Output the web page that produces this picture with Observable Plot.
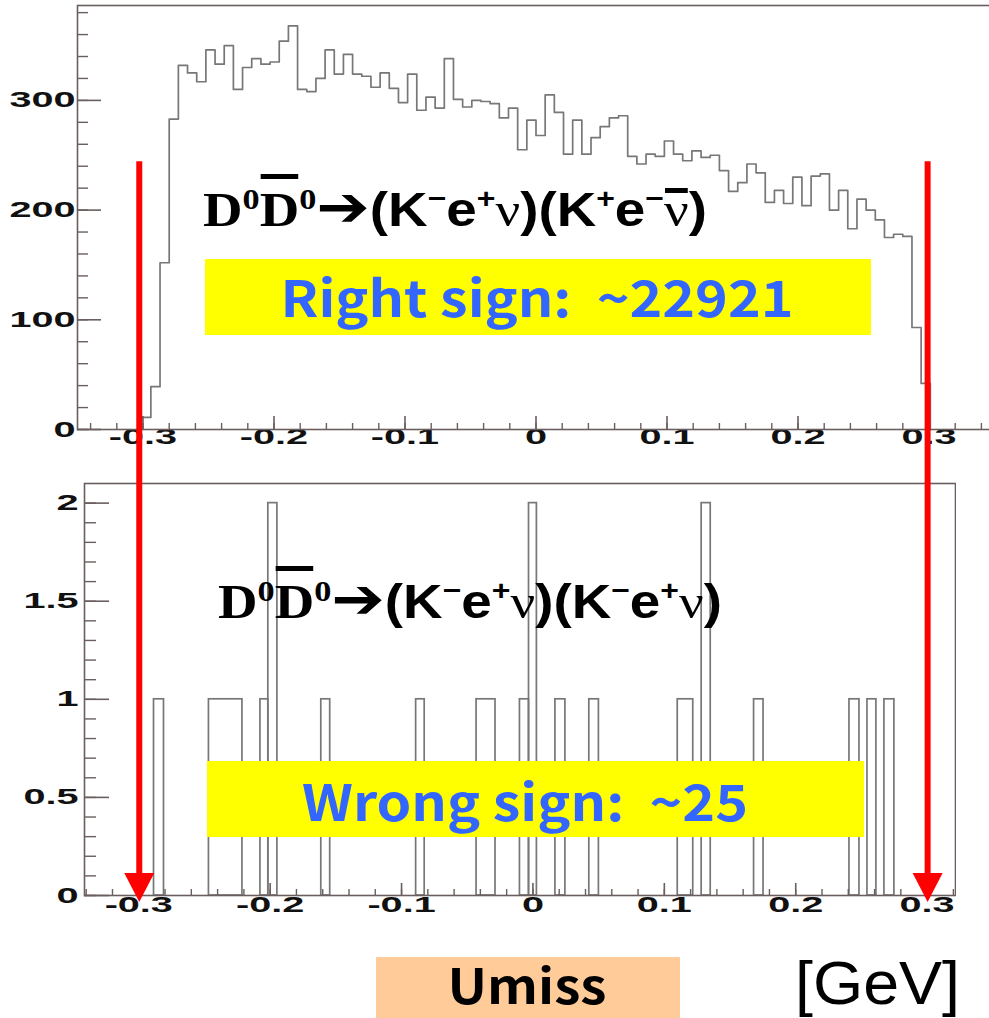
<!DOCTYPE html>
<html>
<head>
<meta charset="utf-8">
<script src="https://cdn.jsdelivr.net/npm/d3@7"></script>
<script src="https://cdn.jsdelivr.net/npm/@observablehq/plot@0.6"></script>
<style>
  html, body { margin: 0; padding: 0; background: #fff; overflow: hidden; }
  #fig { position: relative; width: 989px; height: 1018px; overflow: hidden; background: #fff; }
  #fig > svg { position: absolute; max-width: none; }
</style>
</head>
<body>
<div id="fig"></div>
<script>
// ---- Right-sign sample: Umiss histogram, 0.007 GeV bins from -0.301 GeV ----
const binWidth = 0.007;
const rsFirstEdge = -0.301;
const rsCounts = [
  11, 39, 152, 283, 332, 325, 317, 346, 333, 350,
  310, 330, 338, 333, 335, 354, 368, 310, 308, 320,
  346, 324, 342, 324, 322, 312, 325, 311, 298, 324,
  291, 303, 293, 338, 301, 294, 300, 299, 297, 284,
  293, 255, 282, 268, 305, 289, 251, 282, 251, 266,
  276, 284, 286, 249, 242, 251, 249, 263, 251, 245,
  254, 248, 250, 236, 217, 225, 242, 234, 207, 218,
  206, 230, 204, 231, 233, 200, 218, 183, 210, 200,
  191, 175, 178, 176, 93, 42
];

// ---- Wrong-sign sample: filled Umiss ranges (GeV) and entries per bin ----
const wsLo    = [-0.2884, -0.2466, -0.2074, -0.2014, -0.1611, -0.0889, -0.0429, -0.0099, -0.0030, 0.0171, 0.0429, 0.1102, 0.1284, 0.1683, 0.2409, 0.2546, 0.2675];
const wsHi    = [-0.2808, -0.2211, -0.2014, -0.1945, -0.1543, -0.0824, -0.0285, -0.0030, 0.0030, 0.0247, 0.0502, 0.1220, 0.1353, 0.1755, 0.2485, 0.2614, 0.2751];
const wsCount = [1, 1, 1, 2, 1, 1, 1, 1, 2, 1, 1, 1, 2, 1, 1, 1, 1];

// ---- Axis ticks and labels ----
const xMajor = [-0.3, -0.2, -0.1, 0, 0.1, 0.2, 0.3];
const xLabels = ["-0.3", "-0.2", "-0.1", "0", "0.1", "0.2", "0.3"];
const rsYMajor = [0, 100, 200, 300];
const rsYLabels = ["0", "100", "200", "300"];
const wsYMajor = [0, 0.5, 1, 1.5, 2];
const wsYLabels = ["0", "0.5", "1", "1.5", "2"];

// Selection window on Umiss (GeV)
const cutValues = [-0.3, 0.3];

// ---- Styling ----
const frameColor = "#6b5e5e";
const histColor = "#777777";
const tickFont = {fontFamily: "'Liberation Sans', Arial, sans-serif", fontWeight: "bold", fontSize: 22, fill: "#111"};
const labelStretch = 1.8;

const fig = document.getElementById("fig");

// minor tick positions
const step = (a, b, s) => d3.range(Math.round(a / s), Math.round(b / s) + 1).map(k => +(k * s).toFixed(6));

function frameMarks({fw, fh, xMinor, yMajor, yLabels, yMinor, xLen, xMinLen, yLen, yMinLen, xdy, ydx}) {
  return [
    Plot.ruleX(xMinor, {x: d => d, insetTop: fh - xMinLen, stroke: frameColor, strokeWidth: 1.4}),
    Plot.ruleX(xMajor, {x: d => d, insetTop: fh - xLen, stroke: frameColor, strokeWidth: 1.6}),
    Plot.ruleY(yMinor, {y: d => d, insetRight: fw - yMinLen, stroke: frameColor, strokeWidth: 1.4}),
    Plot.ruleY(yMajor, {y: d => d, insetRight: fw - yLen, stroke: frameColor, strokeWidth: 1.6}),
    Plot.text(xMajor, {x: d => d, frameAnchor: "bottom", dy: xdy, text: (d, i) => xLabels[i], ...tickFont}),
    Plot.text(yMajor, {y: d => d, frameAnchor: "left", dx: ydx, textAnchor: "end", text: (d, i) => yLabels[i], ...tickFont}),
    Plot.frame({stroke: frameColor, strokeWidth: 1.6})
  ];
}

// ---- Top panel: right sign ----
const rsOutline = [{x: rsFirstEdge, y: 0}];
rsCounts.forEach((c, i) => {
  const lo = rsFirstEdge + i * binWidth;
  rsOutline.push({x: lo, y: c}, {x: lo + binWidth, y: c});
});
rsOutline.push({x: rsFirstEdge + rsCounts.length * binWidth, y: 0});

const rsBox = {left: 77, right: 0, top: 5, bottom: 41, width: 994, height: 470};
const rsFw = rsBox.width - rsBox.left - rsBox.right, rsFh = rsBox.height - rsBox.top - rsBox.bottom;
const rsPlot = Plot.plot({
  width: rsBox.width, height: rsBox.height,
  marginLeft: rsBox.left, marginRight: rsBox.right, marginTop: rsBox.top, marginBottom: rsBox.bottom,
  x: {domain: [-0.35, 0.35], axis: null},
  y: {domain: [0, 386.5], axis: null},
  marks: [
    Plot.line(rsOutline, {x: "x", y: "y", stroke: histColor, strokeWidth: 1.7}),
    ...frameMarks({fw: rsFw, fh: rsFh, xMinor: step(-0.34, 0.34, 0.02),
      yMajor: rsYMajor, yLabels: rsYLabels, yMinor: step(0, 380, 20),
      xLen: 13, xMinLen: 6, yLen: 24, yMinLen: 11, xdy: 14, ydx: -2})
  ]
});
rsPlot.style.left = "0px"; rsPlot.style.top = "0px"; rsPlot.style.maxWidth = "none"; rsPlot.style.background = "none";
fig.appendChild(rsPlot);

// ---- Bottom panel: wrong sign ----
const wsBins = wsLo.map((lo, i) => ({lo, hi: wsHi[i], n: wsCount[i]}));
const wsBox = {left: 84, right: 1, top: 13, bottom: 45, width: 956, height: 470, offset: 470};
const wsFw = wsBox.width - wsBox.left - wsBox.right, wsFh = wsBox.height - wsBox.top - wsBox.bottom;
const wsPlot = Plot.plot({
  width: wsBox.width, height: wsBox.height,
  marginLeft: wsBox.left, marginRight: wsBox.right, marginTop: wsBox.top, marginBottom: wsBox.bottom,
  x: {domain: [-0.3413, 0.3216], axis: null},
  y: {domain: [0, 2.1], axis: null},
  marks: [
    Plot.rect(wsBins, {x1: "lo", x2: "hi", y1: 0, y2: "n", fill: "none", stroke: histColor, strokeWidth: 1.7}),
    ...frameMarks({fw: wsFw, fh: wsFh, xMinor: step(-0.34, 0.32, 0.02),
      yMajor: wsYMajor, yLabels: wsYLabels, yMinor: step(0, 2, 0.1),
      xLen: 12, xMinLen: 6, yLen: 25, yMinLen: 12, xdy: 16, ydx: -6})
  ]
});
wsPlot.style.left = "0px"; wsPlot.style.top = wsBox.offset + "px"; wsPlot.style.maxWidth = "none"; wsPlot.style.background = "none";
fig.appendChild(wsPlot);

// tick labels are drawn wide, as in the exported ROOT canvas
for (const svg of [rsPlot, wsPlot]) {
  svg.querySelectorAll("text").forEach(t => {
    const w = t.getComputedTextLength();
    t.setAttribute("textLength", (w * labelStretch).toFixed(1));
    t.setAttribute("lengthAdjust", "spacingAndGlyphs");
  });
}

// ---- Annotation layer ----
const ov = d3.select(fig).append("svg").attr("width", 989).attr("height", 1018).style("left", "0px").style("top", "0px");

const serif = "'Liberation Serif', 'DejaVu Serif', serif";
const sans = "'Liberation Sans', Arial, sans-serif";
const boxFont = "'Noto Sans CJK KR', 'Noto Sans', sans-serif";

// decay formulas
const styles = {
  D:     {family: serif, size: 48, weight: "bold", rise: 0},
  supD:  {family: serif, size: 30, weight: "bold", rise: 17},
  arrow: {family: "'DejaVu Sans', sans-serif", size: 56, weight: "bold", rise: 0},
  s:     {family: sans, size: 48, weight: "bold", rise: 0},
  sup:   {family: sans, size: 28, weight: "bold", rise: 18},
  nu:    {family: serif, size: 48, weight: "normal", rise: 0}
};
function formula(x, y, span, parts) {
  const t = ov.append("text").attr("x", x).attr("y", y).attr("fill", "#000").style("white-space", "pre");
  let cur = 0;
  const bars = [];
  for (const [txt, st, bar] of parts) {
    const s = styles[st];
    const ts = t.append("tspan").text(txt)
      .attr("font-family", s.family).attr("font-size", s.size).attr("font-weight", s.weight)
      .attr("dy", cur - s.rise);
    cur = s.rise;
    if (bar) bars.push([ts.node(), bar]);
  }
  t.attr("textLength", span).attr("lengthAdjust", "spacingAndGlyphs");
  for (const [node, off] of bars) {
    const e = node.getExtentOfChar(0);
    ov.append("rect").attr("x", e.x + 1).attr("y", y - off).attr("width", e.width - 2).attr("height", 5).attr("fill", "#000");
  }
}
formula(203, 226, 504, [
  ["D", "D"], ["0", "supD"], ["D", "D", 52], ["0", "supD"], ["➔", "arrow"],
  ["(K", "s"], ["−", "sup"], ["e", "s"], ["+", "sup"], ["ν", "nu"], [")(K", "s"], ["+", "sup"], ["e", "s"], ["−", "sup"], ["ν", "nu", 38], [")", "s"]
]);
formula(218, 618, 504, [
  ["D", "D"], ["0", "supD"], ["D", "D", 52], ["0", "supD"], ["➔", "arrow"],
  ["(K", "s"], ["−", "sup"], ["e", "s"], ["+", "sup"], ["ν", "nu"], [")(K", "s"], ["−", "sup"], ["e", "s"], ["+", "sup"], ["ν", "nu"], [")", "s"]
]);

// yield boxes
function tag(x, y, w, h, fill, label, cx, base, color, size, span) {
  ov.append("rect").attr("x", x).attr("y", y).attr("width", w).attr("height", h).attr("fill", fill);
  ov.append("text").attr("x", cx).attr("y", base).attr("text-anchor", "middle")
    .attr("font-family", boxFont).attr("font-weight", "bold").attr("font-size", size)
    .attr("fill", color).style("white-space", "pre")
    .attr("textLength", span).attr("lengthAdjust", "spacingAndGlyphs").text(label);
}
tag(205, 259, 666, 76, "#ffff00", "Right sign:  ~22921", 537, 317, "#3366ff", 50, 513);
tag(207, 761, 657, 76, "#ffff00", "Wrong sign:  ~25", 525, 821, "#3366ff", 50, 446);
tag(376, 957, 304, 70, "#ffcc99", "Umiss", 527, 1004, "#000", 48, 159);
ov.append("text").attr("x", 795).attr("y", 1004).attr("font-family", sans).attr("font-size", 62).attr("fill", "#000")
  .attr("textLength", 165).attr("lengthAdjust", "spacingAndGlyphs").text("[GeV]");

// selection window arrows, from the upper panel down to the lower axis
const bx = wsPlot.scale("x"), by = wsPlot.scale("y"), ty = rsPlot.scale("y");
const yStart = ty.apply(244);
const yTip = wsBox.offset + by.apply(0) + 7;
for (const c of cutValues) {
  const x = bx.apply(c) + 1;
  ov.append("line").attr("x1", x).attr("x2", x).attr("y1", yStart).attr("y2", yTip - 26)
    .attr("stroke", "#ff0000").attr("stroke-width", 6);
  ov.append("path").attr("d", `M${x - 15},${yTip - 29}L${x + 15},${yTip - 29}L${x},${yTip}Z`).attr("fill", "#ff0000");
}
</script>
</body>
</html>
